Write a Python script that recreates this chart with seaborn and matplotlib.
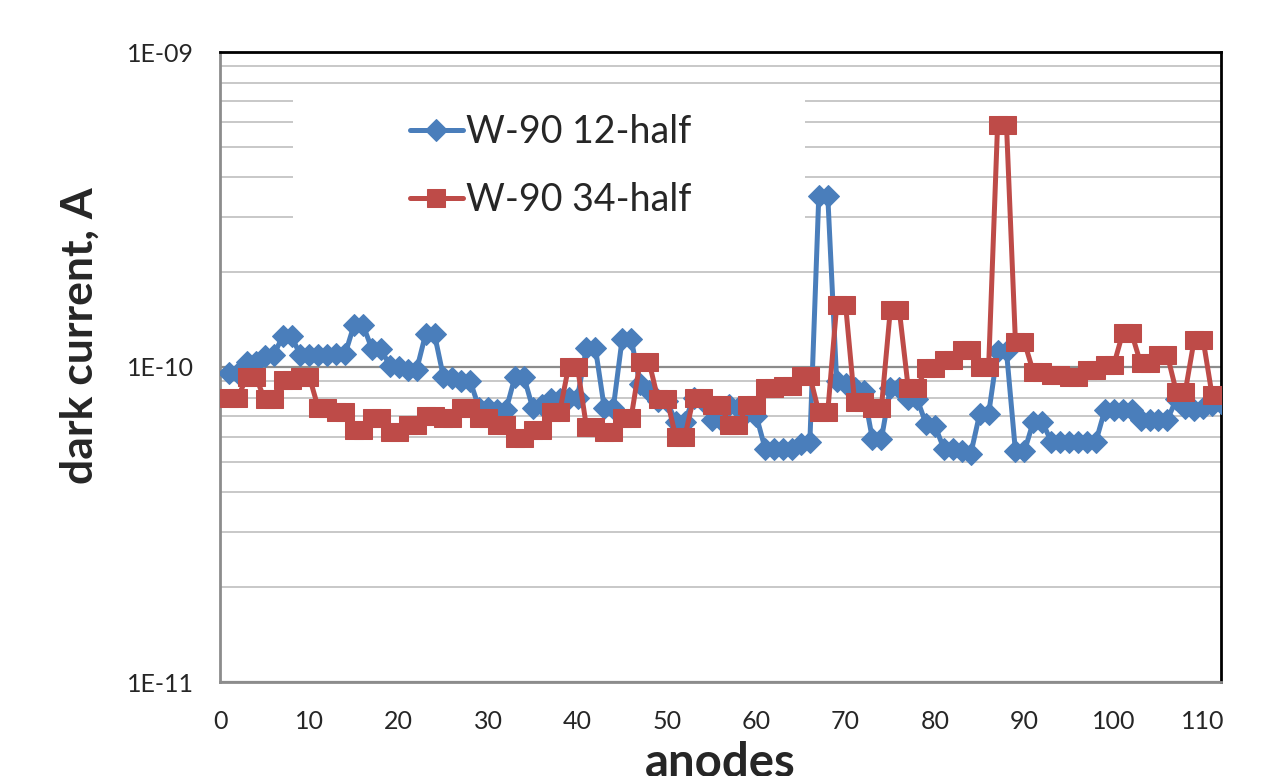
import numpy as np
import pandas as pd
import matplotlib
matplotlib.use("Agg")
import matplotlib.pyplot as plt
import seaborn as sns
from matplotlib.ticker import LogLocator, NullFormatter
from matplotlib.patches import Rectangle

BLUE = "#4A7EBB"
RED = "#BE4B48"
GRID_MINOR = "#c4c4c4"
GRID_MAJOR = "#8c8c8c"

# ── data (dark current in units of 1E-10 A) ────────────────────────────────
anodes = list(range(1, 113))
labels = ["W-90 12-half", "W-90 34-half"]

half_12 = [
    0.96, 0.96, 1.04, 1.04, 1.08, 1.09, 1.25, 1.25, 1.09, 1.09,
    1.09, 1.09, 1.10, 1.10, 1.36, 1.36, 1.14, 1.14, 1.01, 1.00,
    0.98, 0.98, 1.27, 1.27, 0.93, 0.92, 0.90, 0.90, 0.74, 0.74,
    0.73, 0.73, 0.93, 0.93, 0.74, 0.76, 0.79, 0.79, 0.80, 0.80,
    1.15, 1.15, 0.74, 0.74, 1.23, 1.23, 0.88, 0.84, 0.78, 0.78,
    0.67, 0.67, 0.80, 0.78, 0.68, 0.68, 0.76, 0.74, 0.72, 0.70,
    0.55, 0.55, 0.55, 0.55, 0.57, 0.58, 3.50, 3.50, 0.90, 0.88,
    0.86, 0.84, 0.59, 0.59, 0.86, 0.86, 0.79, 0.79, 0.66, 0.65,
    0.55, 0.55, 0.54, 0.53, 0.71, 0.71, 1.12, 1.12, 0.54, 0.54,
    0.67, 0.67, 0.58, 0.58, 0.58, 0.58, 0.58, 0.58, 0.73, 0.73,
    0.73, 0.73, 0.68, 0.68, 0.68, 0.68, 0.79, 0.74, 0.73, 0.74,
    0.76, 0.77,
]

half_34 = [
    0.80, 0.80, 0.93, 0.93, 0.79, 0.79, 0.91, 0.91, 0.93, 0.93,
    0.74, 0.74, 0.72, 0.72, 0.63, 0.63, 0.69, 0.69, 0.62, 0.62,
    0.655, 0.655, 0.70, 0.70, 0.69, 0.69, 0.74, 0.74, 0.69, 0.69,
    0.655, 0.655, 0.595, 0.595, 0.63, 0.63, 0.72, 0.72, 1.00, 1.00,
    0.645, 0.645, 0.62, 0.62, 0.69, 0.69, 1.04, 1.04, 0.79, 0.79,
    0.60, 0.60, 0.80, 0.80, 0.76, 0.76, 0.655, 0.655, 0.76, 0.76,
    0.86, 0.86, 0.87, 0.87, 0.935, 0.935, 0.72, 0.72, 1.57, 1.57,
    0.775, 0.775, 0.74, 0.74, 1.52, 1.52, 0.86, 0.86, 0.99, 0.99,
    1.05, 1.05, 1.13, 1.13, 1.00, 1.00, 5.86, 5.86, 1.20, 1.20,
    0.965, 0.965, 0.945, 0.945, 0.93, 0.93, 0.98, 0.98, 1.015, 1.015,
    1.28, 1.28, 1.03, 1.03, 1.09, 1.09, 0.835, 0.835, 1.22, 1.22,
    0.815, 0.815,
]

df = pd.DataFrame({
    "anode": anodes,
    labels[0]: np.array(half_12) * 1e-10,
    labels[1]: np.array(half_34) * 1e-10,
})

# ── style ──────────────────────────────────────────────────────────────────
sns.set_style("white")
plt.rcParams["font.family"] = ["Lato", "DejaVu Sans"]

fig = plt.figure(figsize=(12.67, 7.76), dpi=100)
ax = fig.add_axes([220 / 1267, 1 - 682 / 776, 1001 / 1267, 630 / 776])

sns.lineplot(data=df, x="anode", y=labels[0], ax=ax, color=BLUE, lw=3.6,
             marker="D", markersize=11, markeredgecolor=BLUE,
             markerfacecolor=BLUE, label=labels[0], zorder=3)
sns.lineplot(data=df, x="anode", y=labels[1], ax=ax, color=RED, lw=3.6,
             marker="s", markersize=13, markeredgecolor=RED,
             markerfacecolor=RED, label=labels[1], zorder=4)

ax.set_yscale("log")
ax.set_ylim(1e-11, 1e-9)
ax.set_xlim(0, 112)
ax.set_yticks([1e-11, 1e-10, 1e-9], ["1E-11", "1E-10", "1E-09"])
ax.yaxis.set_minor_locator(LogLocator(base=10, subs=np.arange(2, 10)))
ax.yaxis.set_minor_formatter(NullFormatter())
ax.set_xticks(range(0, 111, 10))

ax.set_axisbelow(True)
ax.grid(which="minor", axis="y", color=GRID_MINOR, lw=1.3)
ax.grid(which="major", axis="y", color=GRID_MAJOR, lw=1.6)
ax.grid(False, axis="x")

ax.tick_params(axis="y", which="both", length=0, pad=19, labelsize=18)
ax.tick_params(axis="x", length=6, width=1.5, color="#8c8c8c",
               direction="out", pad=14, labelsize=18)

for s in ["left", "bottom"]:
    ax.spines[s].set_color("#8c8c8c")
    ax.spines[s].set_linewidth(2)
for s in ["top", "right"]:
    ax.spines[s].set_color("black")
    ax.spines[s].set_linewidth(2)

ax.set_xlabel("anodes", fontsize=34, fontweight="bold", labelpad=6)
ax.set_ylabel("dark current, A", fontsize=32, fontweight="bold")
ax.yaxis.set_label_coords(-0.12, 0.55)

# white legend area (Excel-style box, no border)
ax.add_patch(Rectangle((0.073, 0.70), 0.511, 0.238, transform=ax.transAxes,
                       facecolor="white", edgecolor="none", zorder=1))
ax.legend(loc="upper left", bbox_to_anchor=(0.175, 0.925), frameon=False,
          fontsize=27, handlelength=1.4, handletextpad=0.1,
          labelspacing=0.85, borderaxespad=0)

fig.savefig("out.png", dpi=100)
